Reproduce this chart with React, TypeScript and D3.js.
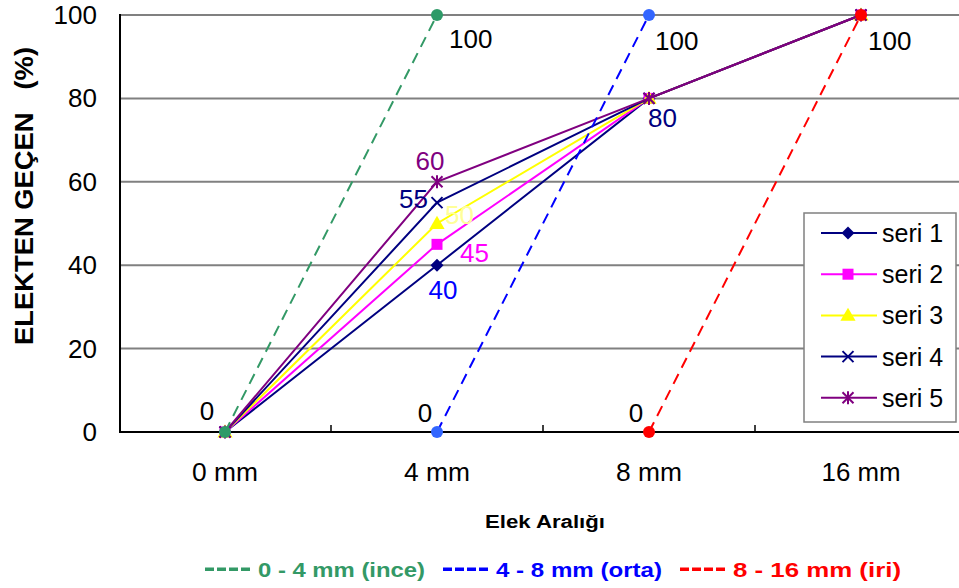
import React from "react";
import * as d3 from "d3";

const categories = ["0 mm", "4 mm", "8 mm", "16 mm"];
const yTicks = [0, 20, 40, 60, 80, 100];

const seriesNames = ["seri 1", "seri 2", "seri 3", "seri 4", "seri 5"];
const seri1 = [0, 40, 80, 100];
const seri2 = [0, 45, 80, 100];
const seri3 = [0, 50, 80, 100];
const seri4 = [0, 55, 80, 100];
const seri5 = [0, 60, 80, 100];

const rangeNames = ["0 - 4 mm (ince)", "4 - 8 mm (orta)", "8 - 16 mm (iri)"];
const ince = [0, 100, null, null];
const orta = [null, 0, 100, null];
const iri = [null, null, 0, 100];

const W = 959;
const H = 588;

const x = d3.scalePoint<string>().domain(categories).range([119, 967]).padding(0.5);
const y = d3.scaleLinear().domain([0, 100]).range([432, 15]);

const seriesData = [seri1, seri2, seri3, seri4, seri5];
const seriesColors = ["#000080", "#FF00FF", "#FFFF00", "#000080", "#800080"];
const seriesMarks = ["diamond", "square", "triangle", "x", "star"];

const rangeData = [ince, orta, iri];
const rangeLine = ["#339966", "#0000FF", "#FF0000"];
const rangeDot = ["#2E9A68", "#3366FF", "#FF0000"];

const line = d3
  .line<number | null>()
  .defined((d) => d !== null)
  .x((_, i) => x(categories[i]) as number)
  .y((d) => y(d as number));

function Marker({ kind, cx, cy, color }: { kind: string; cx: number; cy: number; color: string }) {
  const t = `translate(${cx},${cy})`;
  if (kind === "diamond")
    return <path transform={t} d="M0,-6.5L6.5,0L0,6.5L-6.5,0Z" fill={color} />;
  if (kind === "square")
    return <path transform={t} d={d3.symbol(d3.symbolSquare, 121)()!} fill={color} />;
  if (kind === "triangle")
    return <path transform={t + " translate(0,1)"} d={d3.symbol(d3.symbolTriangle, 100)()!} fill={color} />;
  const r = 5.5;
  const xs = `M${-r},${-r}L${r},${r}M${-r},${r}L${r},${-r}`;
  const d = kind === "x" ? xs : xs + `M0,${-r - 1}L0,${r + 1}`;
  return <path transform={t} d={d} stroke={color} strokeWidth={2} fill="none" />;
}

// data label placement (source, series index, point index, dx, dy, anchor, color)
const labels: [string, number, number, number, number, string, string][] = [
  ["s", 0, 1, 6, 34, "middle", "#0000FF"],
  ["s", 1, 1, 23, 18, "start", "#FF00FF"],
  ["s", 2, 1, 8, 0, "start", "#FFFF99"],
  ["s", 3, 1, -9, 5, "end", "#000080"],
  ["s", 4, 1, -7, -12, "middle", "#800080"],
  ["s", 3, 2, -1, 29, "start", "#000080"],
  ["s", 4, 3, 7, 35, "start", "#000000"],
  ["r", 0, 0, -18, -12, "middle", "#000000"],
  ["r", 0, 1, 12, 33, "start", "#000000"],
  ["r", 1, 1, -12, -10, "middle", "#000000"],
  ["r", 1, 2, 6, 35, "start", "#000000"],
  ["r", 2, 2, -13, -10, "middle", "#000000"],
];

const font = "'Liberation Sans', Arial, sans-serif";

export default function App() {
  const legendStarts = [205, 443, 680];
  const legendTextW = [167, 166, 168];
  return (
    <svg width={W} height={H} style={{ position: "absolute", left: 0, top: 0, background: "#fff" }}>
      <g fontFamily={font}>
        {/* grid */}
        {yTicks.slice(1).map((t) => (
          <line key={t} x1={120} x2={W} y1={y(t)} y2={y(t)} stroke="#808080" strokeWidth={2} />
        ))}
        {/* axes */}
        <line x1={120} x2={120} y1={14} y2={433} stroke="#000" strokeWidth={2} />
        <line x1={119} x2={W} y1={432} y2={432} stroke="#000" strokeWidth={2} />
        {categories.slice(1).map((c) => {
          const bx = (x(c) as number) - x.step() / 2;
          return <line key={c} x1={bx} x2={bx} y1={432} y2={425} stroke="#000" strokeWidth={1.5} />;
        })}
        {yTicks.map((t) => (
          <text key={t} x={97} y={y(t) + 9} textAnchor="end" fontSize={26}>
            {t}
          </text>
        ))}
        {categories.map((c) => (
          <text key={c} x={x(c)} y={481} textAnchor="middle" fontSize={25} textLength={c.length > 4 ? 79 : 66} lengthAdjust="spacingAndGlyphs">
            {c}
          </text>
        ))}
        <text
          transform="translate(33,196) rotate(-90)"
          textAnchor="middle"
          fontSize={25}
          fontWeight="bold"
          style={{ whiteSpace: "pre" }}
          textLength={298}
          lengthAdjust="spacingAndGlyphs"
        >
          {"ELEKTEN GEÇEN   (%)"}
        </text>
        <text x={545} y={528} textAnchor="middle" fontSize={18} fontWeight="bold" textLength={120} lengthAdjust="spacingAndGlyphs">
          Elek Aralığı
        </text>

        {/* black dashes along zero */}
        <line x1={x(categories[0])} x2={x(categories[2])} y1={432} y2={432} stroke="#000" strokeWidth={2} strokeDasharray="10,6" />

        {/* series */}
        {seriesData.map((s, si) => (
          <g key={si}>
            <path d={line(s)!} fill="none" stroke={seriesColors[si]} strokeWidth={2} />
            {s.map((v, i) => (
              <Marker key={i} kind={seriesMarks[si]} cx={x(categories[i]) as number} cy={y(v)} color={seriesColors[si]} />
            ))}
          </g>
        ))}

        {/* sieve ranges */}
        {rangeData.map((r, ri) => (
          <g key={ri}>
            <path d={line(r)!} fill="none" stroke={rangeLine[ri]} strokeWidth={2} strokeDasharray="11,7" />
            {r.map((v, i) =>
              v === null ? null : (
                <circle key={i} cx={x(categories[i])} cy={y(v)} r={6} fill={rangeDot[ri]} />
              )
            )}
          </g>
        ))}

        {/* data labels */}
        {labels.map(([src, k, i, dx, dy, anchor, color], li) => {
          const v = (src === "s" ? seriesData[k][i] : rangeData[k][i]) as number;
          return (
            <text
              key={li}
              x={(x(categories[i]) as number) + dx}
              y={y(v) + dy}
              textAnchor={anchor}
              fontSize={26}
              fill={color}
            >
              {v}
            </text>
          );
        })}

        {/* legend */}
        <rect x={804} y={213} width={152} height={209} fill="#fff" stroke="#808080" strokeWidth={1.5} />
        {seriesNames.map((n, si) => {
          const ry = 233 + si * 41.2;
          return (
            <g key={n}>
              <line x1={821} x2={877} y1={ry} y2={ry} stroke={seriesColors[si]} strokeWidth={2} />
              <Marker kind={seriesMarks[si]} cx={848} cy={ry} color={seriesColors[si]} />
              <text x={882} y={ry + 9} fontSize={25}>
                {n}
              </text>
            </g>
          );
        })}

        {/* bottom legend */}
        {rangeNames.map((n, ri) => {
          const x0 = legendStarts[ri];
          return (
            <g key={n} fill={rangeLine[ri]}>
              {[0, 1, 2, 3].map((j) => (
                <rect key={j} x={x0 + j * 12} y={567.5} width={9} height={3.5} />
              ))}
              <text
                x={x0 + 53}
                y={577}
                fontSize={21}
                fontWeight="bold"
                textLength={legendTextW[ri]}
                lengthAdjust="spacingAndGlyphs"
              >
                {n}
              </text>
            </g>
          );
        })}
      </g>
    </svg>
  );
}
